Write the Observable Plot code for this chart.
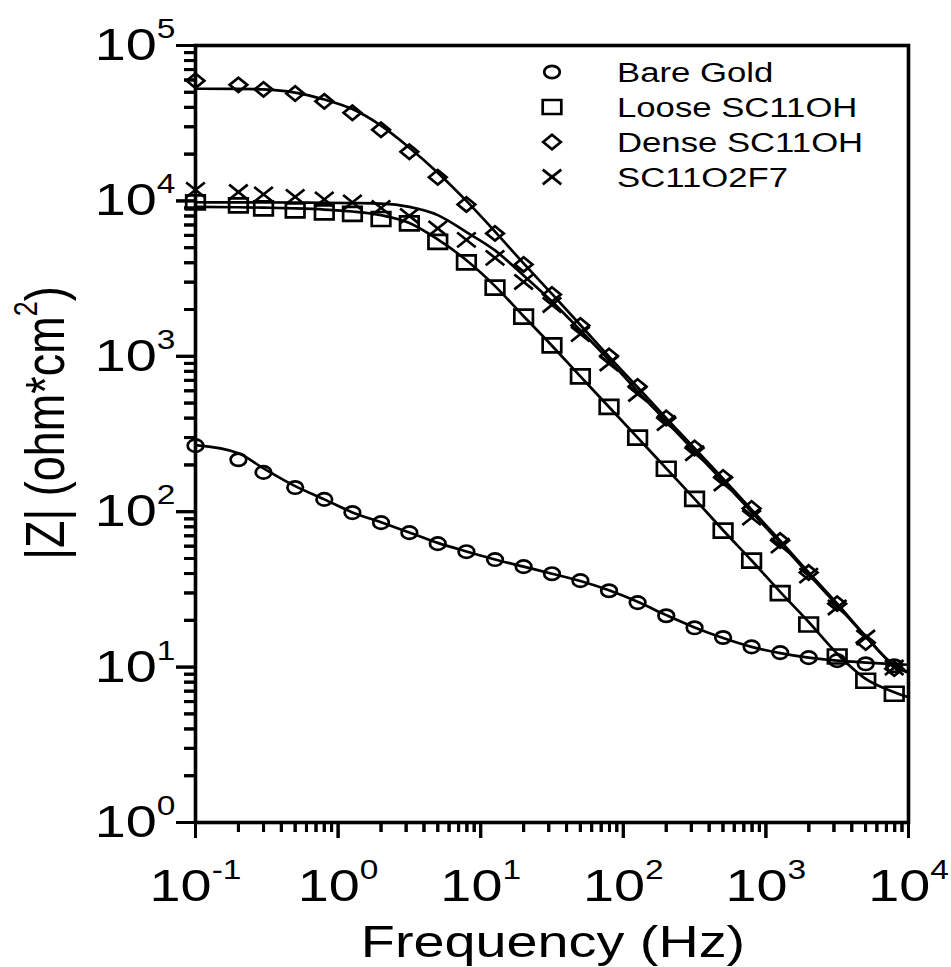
<!DOCTYPE html>
<html>
<head>
<meta charset="utf-8">
<script src="https://cdn.jsdelivr.net/npm/d3@7"></script>
<script src="https://cdn.jsdelivr.net/npm/@observablehq/plot@0.6"></script>
<style>
  html, body { margin: 0; padding: 0; background: #fff; }
  #chart svg { display: block; }
</style>
</head>
<body>
<div id="chart"></div>
<script>
// ---------- data ----------
const freq = [0.1, 0.2, 0.3, 0.5, 0.8, 1.26, 2, 3.16, 5, 7.94, 12.6, 20, 31.6, 50, 79.4, 126, 200, 316, 501, 794, 1259, 1995, 3162, 5012, 7943];

const bareGold    = [266, 216, 179, 143, 120, 98.7, 85, 73.3, 62.3, 55.3, 49.2, 44.3, 39.9, 36.0, 31.0, 26.0, 21.4, 17.9, 15.5, 13.5, 12.4, 11.5, 11.0, 10.5, 10.2];
const looseSC11OH = [9780, 9350, 8950, 8690, 8430, 8240, 7650, 7160, 5450, 4020, 2770, 1800, 1175, 742, 472, 300, 189, 121, 75.5, 48.4, 29.9, 18.8, 11.7, 8.17, 6.74];
const denseSC11OH = [59300, 55800, 52200, 49100, 43700, 36900, 28700, 20700, 14200, 9490, 6180, 3900, 2500, 1580, 1005, 640, 401, 257, 166, 105, 65.2, 40.6, 25.6, 14.4, 9.77];
const sc11o2f7    = [11780, 11400, 11020, 10610, 10230, 9780, 9020, 8000, 6650, 5610, 4300, 3010, 2140, 1390, 899, 572, 372, 238, 152, 91.6, 60.5, 38.8, 24.2, 15.5, 9.93];

// fitted curves (solid lines), read at the same frequencies plus 10^4
const fitFreq = [0.1, 0.2, 0.3, 0.5, 0.8, 1.26, 2, 3.16, 5, 7.94, 12.6, 20, 31.6, 50, 79.4, 126, 200, 316, 501, 794, 1259, 1995, 3162, 5012, 7943, 10000];
const bareGoldFit    = [268, 238, 190, 146, 120, 99, 85.5, 73.5, 63, 55.5, 49.3, 44.3, 39.9, 35.8, 31.2, 26.3, 21.6, 18.0, 15.4, 13.5, 12.3, 11.5, 11.0, 10.7, 10.45, 10.35];
const looseSC11OHFit = [9150, 9100, 9050, 8950, 8800, 8550, 8100, 7200, 5650, 4150, 2830, 1810, 1170, 742, 472, 300, 190, 121, 76, 48.5, 30.5, 19.5, 12.2, 8.4, 6.9, 6.4];
const denseSC11OHFit = [52700, 52600, 52200, 49800, 44900, 39000, 30500, 22000, 15200, 10000, 6350, 3960, 2520, 1590, 995, 632, 400, 256, 163, 103, 65, 40.7, 25.6, 15.8, 10.2, 9.2];
const sc11o2f7Fit    = [9800, 9790, 9780, 9760, 9730, 9680, 9600, 9150, 8100, 6300, 4800, 3310, 2250, 1470, 945, 595, 382, 245, 157, 99.5, 63, 39.6, 25, 15.7, 10.3, 9.3];

const seriesNames   = ["Bare Gold", "Loose SC11OH", "Dense SC11OH", "SC11O2F7"];
const seriesSymbols = ["circle", "square", "diamond", "times"];
const markerValues  = [bareGold, looseSC11OH, denseSC11OH, sc11o2f7];
const fitValues     = [bareGoldFit, looseSC11OHFit, denseSC11OHFit, sc11o2f7Fit];

const xTicks = [0.1, 1, 10, 100, 1000, 10000];
const xTickLabels = ["10^-1", "10^0", "10^1", "10^2", "10^3", "10^4"];
const yTicks = [1, 10, 100, 1000, 10000, 100000];
const yTickLabels = ["10^0", "10^1", "10^2", "10^3", "10^4", "10^5"];
const xMinorTicks = [0.2,0.3,0.4,0.5,0.6,0.7,0.8,0.9, 2,3,4,5,6,7,8,9, 20,30,40,50,60,70,80,90, 200,300,400,500,600,700,800,900, 2000,3000,4000,5000,6000,7000,8000,9000];
const yMinorTicks = [2,3,4,5,6,7,8,9, 20,30,40,50,60,70,80,90, 200,300,400,500,600,700,800,900, 2000,3000,4000,5000,6000,7000,8000,9000, 20000,30000,40000,50000,60000,70000,80000,90000];

const xTitle = "Frequency (Hz)";
const yTitleMain = "|Z| (ohm*cm";
const yTitleSup = "2";
const yTitleEnd = ")";

// ---------- tables ----------
const markers = seriesNames.flatMap((name, i) =>
  freq.map((f, j) => ({series: name, symbol: seriesSymbols[i], f, z: markerValues[i][j]})));
const fits = seriesNames.flatMap((name, i) =>
  fitFreq.map((f, j) => ({series: name, f, z: fitValues[i][j]})));

// ---------- layout ----------
const W = 951, H = 967;
const mL = 195, mR = W - 908, mT = 45, mB = H - 822;
const plotW = W - mL - mR, plotH = H - mT - mB;
const STRETCH = 1.24;   // glyphs in the reference are wider than tall
const FONT = "'Liberation Sans', Arial, Helvetica, sans-serif";
const INK = "#000";
const Y_MAJOR = 19, Y_MINOR = 11, X_MAJOR = 16, X_MINOR = 10, TICK_W = 3;

// marker shapes, slightly wider than tall as in the reference
const K = 0.5523;
const markerShapes = {
  circle: {draw(c) { const rx = 7.8, ry = 6.2;
    c.moveTo(rx, 0);
    c.bezierCurveTo(rx, ry * K, rx * K, ry, 0, ry);
    c.bezierCurveTo(-rx * K, ry, -rx, ry * K, -rx, 0);
    c.bezierCurveTo(-rx, -ry * K, -rx * K, -ry, 0, -ry);
    c.bezierCurveTo(rx * K, -ry, rx, -ry * K, rx, 0);
    c.closePath(); }},
  square: {draw(c) { const w = 9.3, h = 7.0;
    c.moveTo(-w, -h); c.lineTo(w, -h); c.lineTo(w, h); c.lineTo(-w, h); c.closePath(); }},
  diamond: {draw(c) { const w = 8.8, h = 7.2;
    c.moveTo(0, -h); c.lineTo(w, 0); c.lineTo(0, h); c.lineTo(-w, 0); c.closePath(); }},
  times: {draw(c) { const w = 9.3, h = 7.4;
    c.moveTo(-w, -h); c.lineTo(w, h); c.moveTo(w, -h); c.lineTo(-w, h); }}
};

const dotMarks = seriesSymbols.map(sym =>
  Plot.dot(markers.filter(d => d.symbol === sym), {
    x: "f", y: "z", symbol: markerShapes[sym], r: 6,
    fill: "none", stroke: INK, strokeWidth: 2.7
  }));

const chart = Plot.plot({
  width: W,
  height: H,
  marginLeft: mL,
  marginRight: mR,
  marginTop: mT,
  marginBottom: mB,
  style: {fontFamily: FONT, background: "#fff", color: "#000", fontSize: "45px"},
  x: {type: "log", domain: [0.1, 10000], label: null},
  y: {type: "log", domain: [1, 100000], label: null},
  marks: [
    // tick marks just outside the frame
    Plot.tickY(yMinorTicks, {y: d => d, insetLeft: -Y_MINOR, insetRight: plotW, stroke: INK, strokeWidth: TICK_W}),
    Plot.tickY(yTicks, {y: d => d, insetLeft: -Y_MAJOR, insetRight: plotW, stroke: INK, strokeWidth: TICK_W}),
    Plot.tickX(xMinorTicks, {x: d => d, insetTop: plotH, insetBottom: -X_MINOR, stroke: INK, strokeWidth: TICK_W}),
    Plot.tickX(xTicks, {x: d => d, insetTop: plotH, insetBottom: -X_MAJOR, stroke: INK, strokeWidth: TICK_W}),
    // tick labels
    Plot.axisY({ticks: yTicks, tickSize: 0, tickPadding: Y_MAJOR + 1, fontSize: 45,
      tickFormat: d => yTickLabels[yTicks.indexOf(d)], label: null}),
    Plot.axisX({ticks: xTicks, tickSize: 0, tickPadding: 47, fontSize: 45,
      tickFormat: d => xTickLabels[xTicks.indexOf(d)], label: null}),
    Plot.frame({stroke: INK, strokeWidth: 3.6}),
    Plot.line(fits, {x: "f", y: "z", z: "series", curve: "monotone-x", stroke: INK, strokeWidth: 2.7}),
    ...dotMarks
  ]
});
document.getElementById("chart").append(chart);

const NS = "http://www.w3.org/2000/svg";
// superscripts + horizontal stretch in tick labels
chart.querySelectorAll('g[aria-label$="tick label"] text').forEach(t => {
  const s = t.textContent;
  if (!s) return;
  const tr = t.getAttribute("transform") || "";
  t.setAttribute("transform", `${tr} scale(${STRETCH},1)`);
  const i = s.indexOf("^");
  if (i < 0) return;
  t.textContent = "";
  const a = document.createElementNS(NS, "tspan");
  a.textContent = s.slice(0, i);
  const b = document.createElementNS(NS, "tspan");
  b.textContent = s.slice(i + 1);
  b.setAttribute("dy", "-22");
  b.setAttribute("font-size", "27");
  t.append(a, b);
});

const svg = d3.select(chart);
const xs = chart.scale("x"), ys = chart.scale("y");

// tick marks again as filled bars positioned through the plot's own scales (on top of everything)
const tickLayer = svg.append("g").attr("aria-label", "axis ticks").attr("fill", INK);
yMinorTicks.forEach(v => tickLayer.append("rect")
  .attr("x", mL - Y_MINOR).attr("y", ys.apply(v) + 0.5 - TICK_W / 2)
  .attr("width", Y_MINOR + 1).attr("height", TICK_W));
yTicks.forEach(v => tickLayer.append("rect")
  .attr("x", mL - Y_MAJOR).attr("y", ys.apply(v) + 0.5 - TICK_W / 2)
  .attr("width", Y_MAJOR + 1).attr("height", TICK_W));
xMinorTicks.forEach(v => tickLayer.append("rect")
  .attr("x", xs.apply(v) + 0.5 - TICK_W / 2).attr("y", H - mB)
  .attr("width", TICK_W).attr("height", X_MINOR));
xTicks.forEach(v => tickLayer.append("rect")
  .attr("x", xs.apply(v) + 0.5 - TICK_W / 2).attr("y", H - mB)
  .attr("width", TICK_W).attr("height", X_MAJOR));

// axis titles
svg.append("text")
  .attr("transform", `translate(553,957) scale(${STRETCH},1)`)
  .attr("text-anchor", "middle")
  .attr("font-family", FONT).attr("font-size", 45).attr("fill", "black")
  .text(xTitle);

const yt = svg.append("text")
  .attr("transform", `translate(64,423) scale(${STRETCH},1) rotate(-90)`)
  .attr("text-anchor", "middle")
  .attr("font-family", FONT).attr("font-size", 45).attr("fill", "black");
yt.append("tspan").text(yTitleMain);
yt.append("tspan").attr("dy", -22).attr("font-size", 27).text(yTitleSup);
yt.append("tspan").attr("dy", 22).text(yTitleEnd);

// legend
const legend = svg.append("g").attr("aria-label", "legend");
seriesNames.forEach((name, i) => {
  const sym = seriesSymbols[i];
  const cy = 72 + 35 * i;
  const p = d3.path();
  markerShapes[sym].draw(p);
  legend.append("path")
    .attr("transform", `translate(552,${cy})`)
    .attr("d", p.toString())
    .attr("fill", "none").attr("stroke", INK).attr("stroke-width", 2.7);
  legend.append("text")
    .attr("transform", `translate(617,${cy + 10}) scale(${STRETCH},1)`)
    .attr("text-anchor", "start")
    .attr("font-family", FONT).attr("font-size", 28).attr("fill", "black")
    .text(name);
});
</script>
</body>
</html>
